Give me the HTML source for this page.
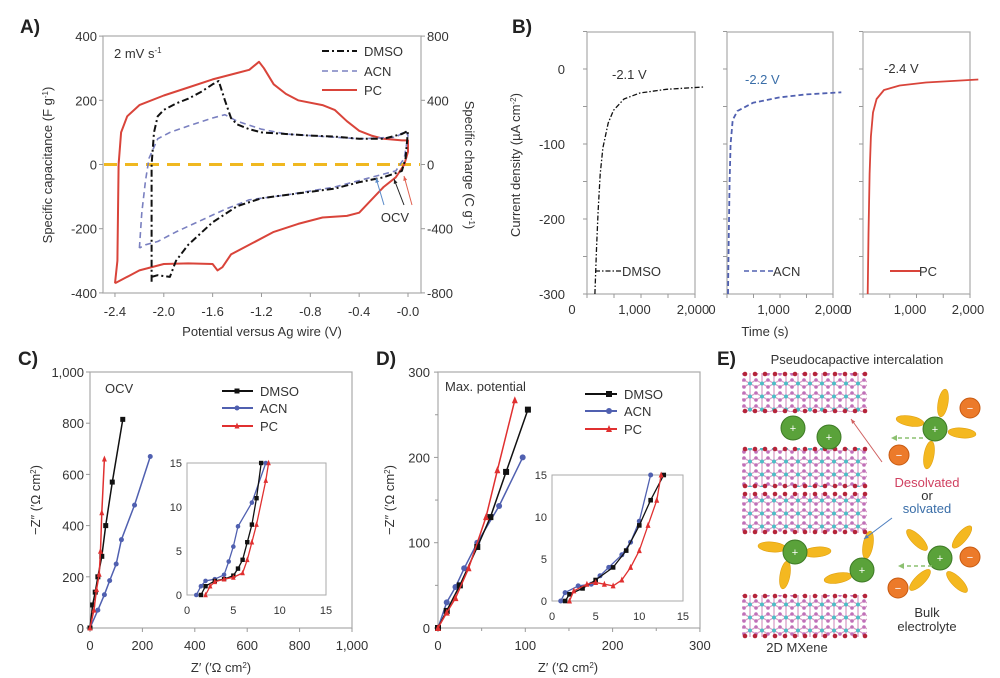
<!DOCTYPE html>
<html><head><meta charset="utf-8">
<style>
html,body{margin:0;padding:0;background:#fff;}
svg{display:block;font-family:"Liberation Sans",sans-serif;}
</style></head><body>
<svg id="s" width="1000" height="678" viewBox="0 0 1000 678" xmlns="http://www.w3.org/2000/svg">
<defs>
<pattern id="lat" x="0" y="0" width="12" height="13" patternUnits="userSpaceOnUse">
<rect width="12" height="13" fill="#fff"/>
<path d="M0 3 L6 6.5 L12 3 M0 10 L6 6.5 L12 10 M6 0 L6 13" stroke="#d9a0c8" stroke-width="1.3" fill="none"/>
<circle cx="6" cy="6.5" r="2" fill="#4dbfc6"/><circle cx="0" cy="3" r="1.8" fill="#c070b8"/><circle cx="12" cy="3" r="1.8" fill="#c070b8"/>
<circle cx="0" cy="10" r="1.8" fill="#c070b8"/><circle cx="12" cy="10" r="1.8" fill="#c070b8"/>
</pattern>
</defs>
<g id="g"></g>
</svg>
<script>
var g=document.getElementById('g');var out='';
function t(x,y,s,o){o=o||{};out+='<text x="'+x+'" y="'+y+'" font-size="'+(o.fs||13)+'" fill="'+(o.c||'#333')+'" text-anchor="'+(o.a||'start')+'"'+(o.r?' transform="rotate('+o.r+' '+x+' '+y+')"':'')+(o.w?' font-weight="bold"':'')+'>'+s+'</text>';}
function l(x1,y1,x2,y2,c,w,d){out+='<line x1="'+x1+'" y1="'+y1+'" x2="'+x2+'" y2="'+y2+'" stroke="'+(c||'#999')+'" stroke-width="'+(w||1)+'"'+(d?' stroke-dasharray="'+d+'"':'')+'/>';}
function p(pts,fx,fy,c,w,d){var s='';pts.forEach(function(q,i){s+=(i?'L':'M')+fx(q[0]).toFixed(1)+' '+fy(q[1]).toFixed(1);});out+='<path d="'+s+'" fill="none" stroke="'+c+'" stroke-width="'+w+'" stroke-linejoin="round"'+(d?' stroke-dasharray="'+d+'"':'')+'/>';}
function box(x1,y1,x2,y2){out+='<rect x="'+x1+'" y="'+y1+'" width="'+(x2-x1)+'" height="'+(y2-y1)+'" fill="none" stroke="#aaa" stroke-width="1.2"/>';}
function mk(pts,fx,fy,c,type,sz){pts.forEach(function(q){var x=fx(q[0]),y=fy(q[1]);sz=sz||3;
 if(type=='s')out+='<rect x="'+(x-sz)+'" y="'+(y-sz)+'" width="'+2*sz+'" height="'+2*sz+'" fill="'+c+'"/>';
 else if(type=='c')out+='<circle cx="'+x+'" cy="'+y+'" r="'+sz+'" fill="'+c+'"/>';
 else out+='<path d="M'+x+' '+(y-sz-1)+'L'+(x+sz)+' '+(y+sz)+'L'+(x-sz)+' '+(y+sz)+'Z" fill="'+c+'"/>';});}
var BLK='#111',BLU='#5060b0',RED='#e03030',PCR='#d9443a';
// ===== A =====
t(20,33,'A)',{fs:19,w:1,c:'#222'});
var AX=function(v){return 408+122.1*v},AY=function(c){return 164.5-c*0.321};
box(103,36,421,293);
[400,200,0,-200,-400].forEach(function(v){t(97,AY(v)+5,v,{a:'end'});l(103,AY(v),99,AY(v));});
[800,400,0,-400,-800].forEach(function(v,i){t(427,AY([400,200,0,-200,-400][i])+5,v);l(421,AY([400,200,0,-200,-400][i]),425,AY([400,200,0,-200,-400][i]));});
[-2.4,-2.0,-1.6,-1.2,-0.8,-0.4,-0.0].forEach(function(v){t(AX(v),316,v==0?'-0.0':v.toFixed(1),{a:'middle'});l(AX(v),293,AX(v),297);});
t(262,336,'Potential versus Ag wire (V)',{a:'middle'});
t(52,165,'Specific capacitance (F g<tspan dy="-4" font-size="8">-1</tspan><tspan dy="4">)</tspan>',{a:'middle',r:-90});
t(465,165,'Specific charge (C g<tspan dy="-4" font-size="8">-1</tspan><tspan dy="4">)</tspan>',{a:'middle',r:90});
t(114,58,'2 mV s<tspan dy="-5" font-size="8">-1</tspan>');
l(104,164.5,420,164.5,'#f0b820',3,'13 8');
var pc=[[-2.4,-370],[-2.38,-300],[-2.37,0],[-2.35,100],[-2.3,150],[-2.2,185],[-2.0,215],[-1.8,240],[-1.6,265],[-1.4,285],[-1.3,295],[-1.22,320],[-1.18,300],[-1.1,250],[-1.0,220],[-0.9,200],[-0.7,185],[-0.6,170],[-0.5,135],[-0.4,105],[-0.3,90],[-0.2,80],[-0.05,75],[0,75],[0,40],[-0.03,0],[-0.1,-40],[-0.2,-70],[-0.3,-110],[-0.4,-150],[-0.5,-160],[-0.7,-165],[-0.9,-185],[-1.1,-210],[-1.3,-250],[-1.45,-280],[-1.52,-320],[-1.56,-330],[-1.6,-310],[-1.8,-308],[-2.0,-310],[-2.2,-330],[-2.4,-370]];
var dm=[[-2.1,-365],[-2.1,0],[-2.08,100],[-2.05,150],[-2.0,170],[-1.9,190],[-1.8,205],[-1.7,225],[-1.6,250],[-1.55,260],[-1.5,200],[-1.45,145],[-1.4,125],[-1.3,110],[-1.2,100],[-1.0,95],[-0.8,90],[-0.6,87],[-0.4,80],[-0.2,80],[-0.05,95],[0,105],[-0.02,20],[-0.05,-20],[-0.2,-40],[-0.4,-55],[-0.6,-75],[-0.8,-85],[-1.0,-95],[-1.2,-105],[-1.4,-130],[-1.6,-180],[-1.8,-250],[-1.9,-300],[-1.95,-350],[-2.05,-345],[-2.1,-350]];
var ac=[[-2.2,-260],[-2.18,-150],[-2.15,-50],[-2.12,20],[-2.05,80],[-1.95,100],[-1.8,120],[-1.6,145],[-1.5,155],[-1.4,135],[-1.2,110],[-1.0,95],[-0.8,90],[-0.6,85],[-0.4,80],[-0.1,85],[-0.02,105],[0,90],[-0.03,20],[-0.1,-20],[-0.3,-40],[-0.6,-70],[-1.0,-95],[-1.3,-110],[-1.5,-140],[-1.7,-175],[-1.9,-210],[-2.05,-240],[-2.15,-250],[-2.2,-260]];
p(pc,AX,AY,PCR,2);p(ac,AX,AY,'#7a80c0',1.6,'6 4');p(dm,AX,AY,BLK,2,'7 3 2 3');
l(322,51,357,51,BLK,2,'7 3 2 3');t(364,56,'DMSO');
l(322,71,357,71,'#7a80c0',1.6,'6 4');t(364,76,'ACN');
l(322,90,357,90,PCR,2);t(364,95,'PC');
t(395,222,'OCV',{a:'middle'});
function arr(x1,y1,x2,y2,c){l(x1,y1,x2,y2,c,1);var a=Math.atan2(y2-y1,x2-x1),h=5;out+='<path d="M'+x2+' '+y2+'L'+(x2-h*Math.cos(a-0.4))+' '+(y2-h*Math.sin(a-0.4))+'L'+(x2-h*Math.cos(a+0.4))+' '+(y2-h*Math.sin(a+0.4))+'Z" fill="'+c+'"/>';}
arr(384,205,376,178,'#5a8ac8');arr(404,205,394,179,'#222');arr(412,205,404,176,'#e06050');
// ===== B =====
t(512,33,'B)',{fs:19,w:1,c:'#222'});
var BY=function(v){return 69-v*0.75};
[[587,695],[727,833],[863,970]].forEach(function(r,k){box(r[0],32,r[1],294);
 for(var i=0;i<=4;i++){var x=r[0]+i*(r[1]-r[0])/4;l(x,294,x,298);}
 [50,0,-50,-100,-150,-200,-250,-300].forEach(function(v){l(r[0],BY(v),r[0]-4,BY(v));});
 t(r[0]-15,314,'0',{a:'middle'});t(r[0]+(r[1]-r[0])*0.44,314,'1,000',{a:'middle'});t(r[1]-2,314,'2,000',{a:'middle'});});
[0,-100,-200,-300].forEach(function(v){t(565,BY(v)+5,v,{a:'end'});});
t(520,165,'Current density (µA cm<tspan dy="-4" font-size="8">-2</tspan><tspan dy="4">)</tspan>',{a:'middle',r:-90});
t(765,336,'Time (s)',{a:'middle'});
function bx(x0,x1){return function(tt){return x0+tt*(x1-x0)/2000*0.98;};}
p([[150,-300],[180,-240],[210,-190],[250,-140],[300,-105],[400,-72],[500,-55],[700,-40],[1000,-32],[1500,-27],[2200,-24]],bx(587,695),BY,BLK,1.3,'5 2 1.5 2');
p([[20,-300],[35,-220],[50,-150],[70,-100],[110,-68],[200,-56],[500,-45],[1000,-38],[1500,-34],[2200,-31]],bx(727,833),BY,'#5060b0',1.8,'5 3');
p([[90,-300],[105,-220],[125,-140],[150,-90],[190,-58],[260,-40],[400,-28],[700,-22],[1200,-18],[2200,-14]],bx(863,970),BY,PCR,1.8);
t(612,79,'-2.1 V',{fs:13});t(745,84,'-2.2 V',{fs:13,c:'#3a6ea8'});t(884,73,'-2.4 V',{fs:13});
l(595,271,622,271,BLK,1.3,'5 2 1.5 2');t(622,276,'DMSO');
l(744,271,773,271,'#5060b0',1.6,'5 3');t(773,276,'ACN');
l(890,271,920,271,PCR,2);t(919,276,'PC');
// ===== C =====
t(18,365,'C)',{fs:19,w:1,c:'#222'});
var CX=function(z){return 90+z*0.262},CY=function(z){return 628-z*0.256};
box(90,372,352,628);
[0,200,400,600,800,1000].forEach(function(v){var s=v==1000?'1,000':v;t(84,CY(v)+5,s,{a:'end'});l(90,CY(v),86,CY(v));t(CX(v),650,s,{a:'middle'});l(CX(v),628,CX(v),632);});
t(221,672,'Z′ (′Ω cm<tspan dy="-4" font-size="8">2</tspan><tspan dy="4">)</tspan>',{a:'middle'});
t(40,500,'−Z″ (′Ω cm<tspan dy="-4" font-size="8">2</tspan><tspan dy="4">)</tspan>',{a:'middle',r:-90});
t(105,393,'OCV');
var cd=[[0,0],[10,90],[20,140],[30,200],[45,280],[60,400],[85,570],[125,815]],ca=[[0,0],[30,70],[55,130],[75,185],[100,250],[120,345],[170,480],[230,670]],cp=[[0,0],[15,70],[25,150],[35,210],[40,300],[45,450],[55,660]];
p(ca,CX,CY,BLU,1.5);mk(ca,CX,CY,BLU,'c',2.5);p(cd,CX,CY,BLK,1.5);mk(cd,CX,CY,BLK,'s',2.5);p(cp,CX,CY,RED,1.5);mk(cp,CX,CY,RED,'t',2.5);
[[BLK,'s','DMSO',391],[BLU,'c','ACN',408],[RED,'t','PC',426]].forEach(function(a){l(222,a[3],253,a[3],a[0],2);mk([[237,a[3]]],function(x){return x},function(y){return y},a[0],a[1],2.5);t(260,a[3]+5,a[2]);});
var IX=function(z){return 187+z*9.27},IY=function(z){return 595-z*8.8};
out+='<rect x="187" y="463" width="139" height="132" fill="#fff" stroke="#aaa"/>';
[0,5,10,15].forEach(function(v){t(IX(v),614,v,{a:'middle',fs:11});t(182,IY(v)+4,v,{a:'end',fs:11});});
var ia=[[1,0],[1.5,1],[2,1.6],[3,1.8],[4,2.3],[4.5,3.8],[5,5.5],[5.5,7.8],[7,10.5],[8.5,15]],id=[[1.5,0],[2,1],[3,1.6],[4,1.8],[5,2.2],[5.5,3],[6,4],[6.5,6],[7,8],[7.5,11],[8,15]],ip=[[2,0],[2.5,1],[3,1.5],[4,1.8],[5,2],[6,2.5],[6.5,4],[7,6],[7.5,8],[8.5,13],[8.8,15]];
p(ia,IX,IY,BLU,1.3);mk(ia,IX,IY,BLU,'c',2.3);p(id,IX,IY,BLK,1.3);mk(id,IX,IY,BLK,'s',2.2);p(ip,IX,IY,RED,1.3);mk(ip,IX,IY,RED,'t',2.3);
// ===== D =====
t(376,365,'D)',{fs:19,w:1,c:'#222'});
var DX=function(z){return 438+z*0.873},DY=function(z){return 628-z*0.853};
box(438,372,700,628);
[0,100,200,300].forEach(function(v){t(430,DY(v)+5,v,{a:'end'});l(438,DY(v),434,DY(v));t(DX(v),650,v,{a:'middle'});l(DX(v),628,DX(v),632);});
[50,150,250].forEach(function(v){l(438,DY(v),435,DY(v));l(DX(v),628,DX(v),631);});
t(568,672,'Z′ (′Ω cm<tspan dy="-4" font-size="8">2</tspan><tspan dy="4">)</tspan>',{a:'middle'});
t(394,500,'−Z″ (′Ω cm<tspan dy="-4" font-size="8">2</tspan><tspan dy="4">)</tspan>',{a:'middle',r:-90});
t(445,391,'Max. potential');
var dd=[[0,0],[10,20],[25,50],[45,95],[60,130],[78,183],[103,256]],da=[[0,0],[10,30],[20,48],[30,70],[45,100],[70,143],[97,200]],dp=[[0,0],[10,18],[20,35],[35,70],[55,130],[68,185],[88,267]];
p(da,DX,DY,BLU,1.5);mk(da,DX,DY,BLU,'c',3);p(dd,DX,DY,BLK,1.5);mk(dd,DX,DY,BLK,'s',3);p(dp,DX,DY,RED,1.5);mk(dp,DX,DY,RED,'t',3);
[[BLK,'s','DMSO',394],[BLU,'c','ACN',411],[RED,'t','PC',429]].forEach(function(a){l(585,a[3],617,a[3],a[0],2);mk([[609,a[3]]],function(x){return x},function(y){return y},a[0],a[1],3);t(624,a[3]+5,a[2]);});
var JX=function(z){return 552+z*8.73},JY=function(z){return 601-z*8.4};
out+='<rect x="552" y="475" width="131" height="126" fill="#fff" stroke="#aaa"/>';
[0,5,10,15].forEach(function(v){t(JX(v),620,v,{a:'middle',fs:11});t(547,JY(v)+4,v,{a:'end',fs:11});});
var ja=[[1,0],[1.5,1],[3,1.8],[4.5,2],[5.5,3],[6.5,4],[8,5.5],[9,7],[10,9.5],[11.3,15]],jd=[[1.5,0],[2,0.8],[3.5,1.5],[5,2.5],[7,4],[8.5,6],[10,9],[11.3,12],[12.8,15]],jp=[[2,0],[2.5,1.2],[4,2],[5,2.2],[6,2],[7,1.8],[8,2.5],[9,4],[10,6],[11,9],[12,12],[12.5,15]];
p(ja,JX,JY,BLU,1.3);mk(ja,JX,JY,BLU,'c',2.5);p(jd,JX,JY,BLK,1.3);mk(jd,JX,JY,BLK,'s',2.3);p(jp,JX,JY,RED,1.3);mk(jp,JX,JY,RED,'t',2.5);
// ===== E =====
t(717,365,'E)',{fs:19,w:1,c:'#222'});
t(857,364,'Pseudocapactive intercalation',{a:'middle'});
[[373,412],[448,487],[493,533],[595,637]].forEach(function(r){out+='<rect x="742" y="'+r[0]+'" width="125" height="'+(r[1]-r[0])+'" fill="url(#lat)"/>';
 for(var x=745;x<867;x+=10){out+='<circle cx="'+x+'" cy="'+(r[0]+1)+'" r="2.3" fill="#b5253a"/><circle cx="'+x+'" cy="'+(r[1]-1)+'" r="2.3" fill="#b5253a"/>';}});
function el(x,y,ang){out+='<ellipse cx="'+x+'" cy="'+y+'" rx="14" ry="5" fill="#f4b820" stroke="#e0a010" stroke-width="0.6" transform="rotate('+ang+' '+x+' '+y+')"/>';}
function cat(x,y){out+='<circle cx="'+x+'" cy="'+y+'" r="12" fill="#5aa23a" stroke="#3d7a25"/>';t(x,y+4,'+',{a:'middle',c:'#fff',fs:11});}
function an(x,y){out+='<circle cx="'+x+'" cy="'+y+'" r="10" fill="#ec7a2a" stroke="#c85a10"/>';t(x,y+4,'−',{a:'middle',c:'#fff',fs:11});}
el(943,403,-80);el(910,421,10);el(962,433,5);el(929,455,-80);cat(935,429);an(970,408);an(899,455);
el(917,540,45);el(962,537,-50);el(920,580,-45);el(957,582,45);cat(940,558);an(970,557);an(898,588);
el(772,547,5);el(817,552,-5);el(785,575,-80);cat(795,552);
el(868,545,-80);el(838,578,-10);cat(862,570);
cat(793,428);cat(829,437);
l(923,438,895,438,'#8cc070',1.5,'4 3');out+='<path d="M891 438 L897 435 L897 441Z" fill="#8cc070"/>';
l(932,566,902,566,'#8cc070',1.5,'4 3');out+='<path d="M898 566 L904 563 L904 569Z" fill="#8cc070"/>';
arr(882,462,851,419,'#d06060');arr(892,518,864,539,'#5080c0');
t(927,487,'Desolvated',{a:'middle',c:'#d04060'});t(927,500,'or',{a:'middle'});t(927,513,'solvated',{a:'middle',c:'#3a6ea8'});
t(927,617,'Bulk',{a:'middle'});t(927,631,'electrolyte',{a:'middle'});
t(797,652,'2D MXene',{a:'middle'});
g.innerHTML=out;
</script>
</body></html>
